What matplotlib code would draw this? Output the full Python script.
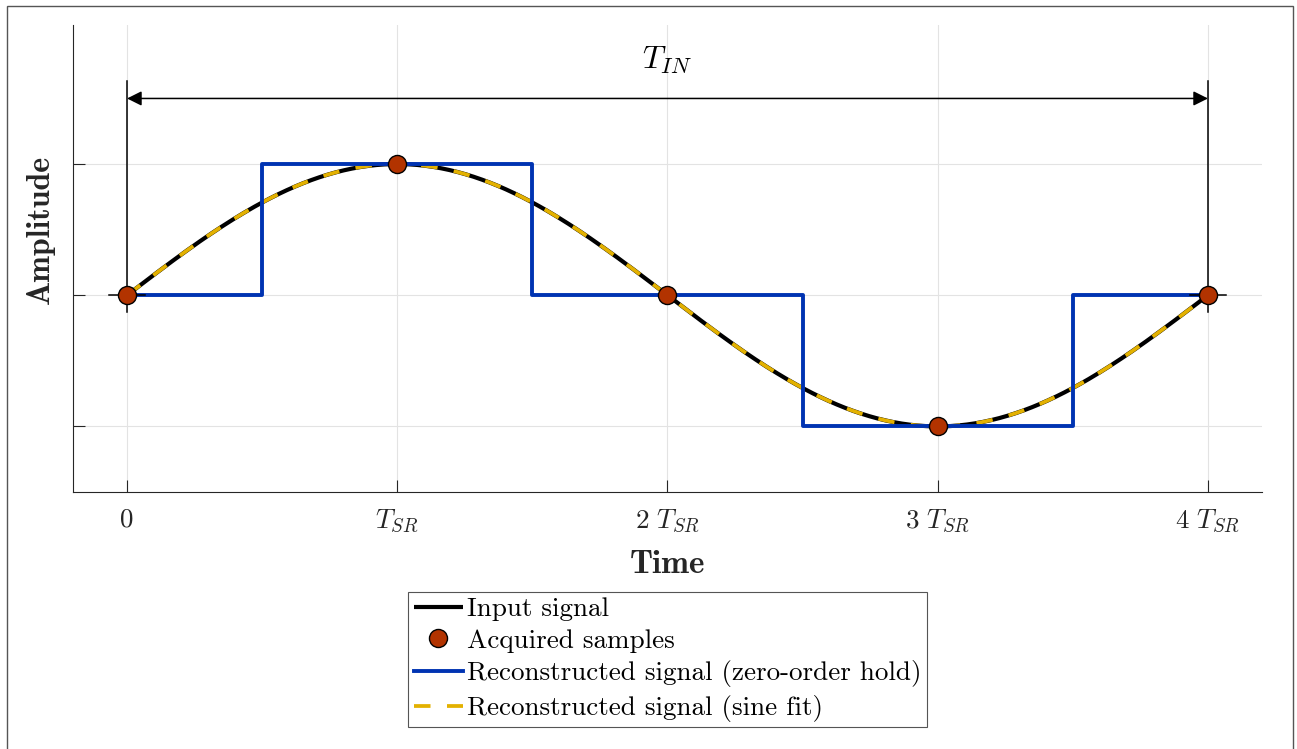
import matplotlib
matplotlib.use("Agg")
import matplotlib.pyplot as plt
import numpy as np
from matplotlib.patches import Rectangle

# data
sample_times = [0, 1, 2, 3, 4]          # in units of T_SR
sample_values = [0, 1, 0, -1, 0]
sine_amplitude = 1.0
sine_period = 4.0                        # T_IN = 4 T_SR
tick_pos = [0, 1, 2, 3, 4]
tick_labels = ['0', '$T_{SR}$', '$2\\ T_{SR}$', '$3\\ T_{SR}$', '$4\\ T_{SR}$']
legend_labels = ['Input signal', 'Acquired samples',
                 'Reconstructed signal (zero-order hold)',
                 'Reconstructed signal (sine fit)']

plt.rcParams['font.family'] = 'serif'
plt.rcParams['font.serif'] = ['cmr10']
plt.rcParams['mathtext.fontset'] = 'cm'
plt.rcParams['axes.unicode_minus'] = False

dark = '#262626'
fs = 19.5

fig = plt.figure(figsize=(12.97, 7.49), dpi=100)
ax = fig.add_axes([73 / 1297, 1 - 492 / 749, 1189 / 1297, 467 / 749])

# continuous signal
t = np.linspace(0, 4, 400)
y = sine_amplitude * np.sin(2 * np.pi * t / sine_period)

h_in, = ax.plot(t, y, color='black', lw=3.0, zorder=2, solid_capstyle='butt')
h_fit, = ax.plot(t, y, color='#E3B100', lw=2.7, zorder=3,
                 linestyle=(0, (4.4, 4.4)), dash_capstyle='butt')
h_zoh, = ax.step(sample_times, sample_values, where='mid', color='#0033B2',
                 lw=2.8, zorder=4)
h_smp, = ax.plot(sample_times, sample_values, 'o', ms=13, mfc='#B23300',
                 mec='black', mew=1.0, zorder=6, linestyle='none')

# T_IN annotation
for xv in [0, 4]:
    ax.plot([xv, xv], [-0.13, 1.63], color='black', lw=1.1, zorder=5)
    ax.plot([xv - 0.067, xv + 0.067], [0, 0], color='black', lw=1.1, zorder=5)
ax.annotate('', xy=(4, 1.5), xytext=(0, 1.5),
            arrowprops=dict(arrowstyle='<|-|>', color='black', lw=1.1,
                            mutation_scale=22, shrinkA=0, shrinkB=0))
ax.text(2, 1.79, '$T_{IN}$', ha='center', va='center', fontsize=23,
        color='black')

ax.set_xlim(-0.2, 4.2)
ax.set_ylim(-1.5, 2.06)
ax.set_xticks(tick_pos)
ax.set_xticklabels(tick_labels)
ax.set_yticks([-1, 0, 1])
ax.set_yticklabels([])
ax.tick_params(direction='in', length=8.5, width=0.8, color=dark,
               labelcolor=dark, labelsize=fs, pad=11)
ax.grid(True, color='#e3e3e3', lw=0.8, zorder=0)
ax.set_axisbelow(True)
for s in ['top', 'right']:
    ax.spines[s].set_visible(False)
for s in ['left', 'bottom']:
    ax.spines[s].set_color(dark)
    ax.spines[s].set_linewidth(0.8)

ax.set_xlabel('Time', fontfamily='cmb10', fontsize=24, color=dark)
ax.xaxis.set_label_coords(0.5, -0.124)
ax.set_ylabel('Amplitude', fontfamily='cmb10', fontsize=23, color=dark)
ax.yaxis.set_label_coords(-0.015, 0.563)

leg = ax.legend([h_in, h_smp, h_zoh, h_fit], legend_labels,
                loc='upper center', bbox_to_anchor=(0.5, -0.214),
                fontsize=fs, frameon=True, fancybox=False, framealpha=1,
                handlelength=1.8, handletextpad=0.15, labelspacing=0.28,
                borderpad=0.2, borderaxespad=0)
leg.get_frame().set_edgecolor('#555555')
leg.get_frame().set_linewidth(0.8)

# figure border
fig.patches.append(Rectangle((7 / 1297, -0.01), 1286 / 1297, 1.01 - 6 / 749,
                             transform=fig.transFigure, fill=False,
                             edgecolor='#555555', lw=1.0))

fig.savefig('out.png', dpi=100)
